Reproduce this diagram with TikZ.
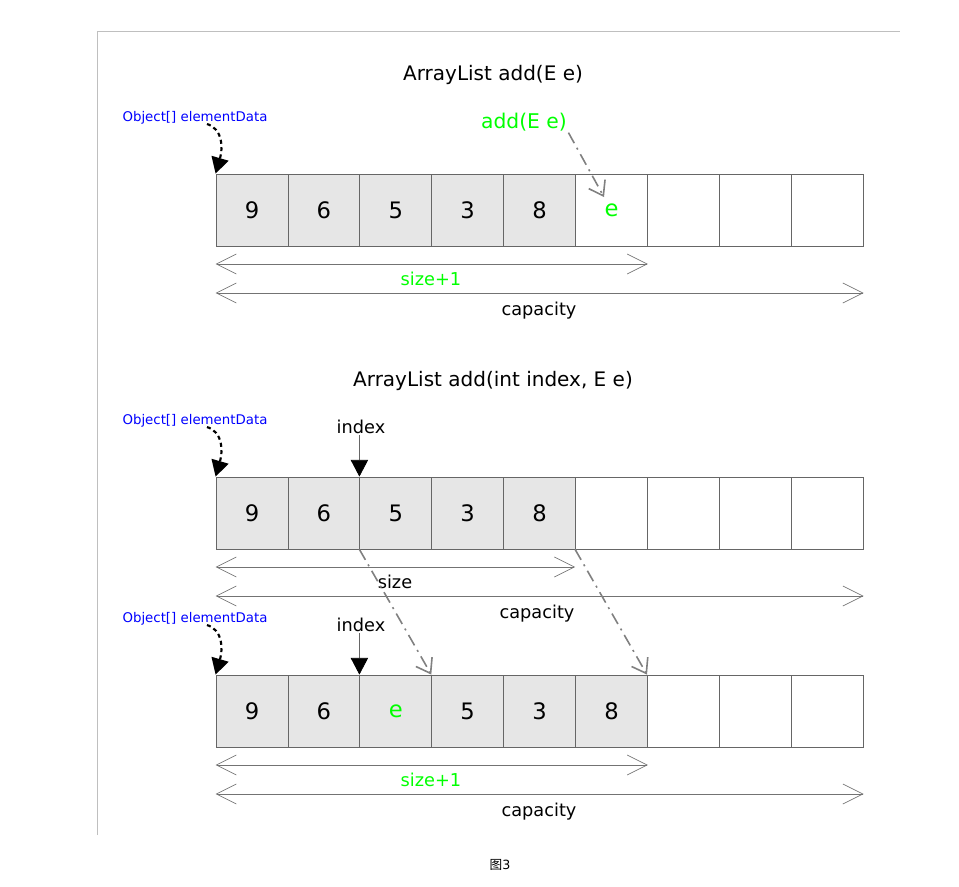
\documentclass[tikz,border=0pt]{standalone}
\usepackage{fontspec}
\setmainfont{DejaVu Sans}
\newfontfamily\cjk{Noto Sans CJK SC}
\usetikzlibrary{arrows.meta, positioning}
\definecolor{cellfill}{HTML}{E6E6E6}
\definecolor{cellline}{HTML}{666666}
\definecolor{hlgreen}{HTML}{00FF00}
\definecolor{ptrblue}{HTML}{0000FF}
\tikzset{
  cell/.style  ={draw=cellline, line width=0.6pt, minimum width=54pt,
                 minimum height=54pt, inner sep=0pt,
                 font=\fontsize{17}{20}\selectfont},
  used/.style  ={cell, fill=cellfill},
  ttl/.style   ={font=\fontsize{15}{18}\selectfont},
  lab/.style   ={font=\fontsize{13.3}{16}\selectfont, inner sep=1pt},
  objlab/.style={font=\fontsize{10}{12}\selectfont, text=ptrblue, inner sep=1pt},
  dim/.style   ={{Straight Barb[length=15pt,width=15pt]}-{Straight Barb[length=15pt,width=15pt]},
                 line width=0.5pt, black!55},
  ptr/.style   ={-{Triangle[length=12pt,width=13pt]}, line width=1.6pt,
                 dash pattern=on 3pt off 2.5pt},
  idx/.style   ={-{Triangle[length=12.5pt,width=13pt,black]}, line width=0.5pt, black!60},
  move/.style  ={-{Straight Barb[length=10pt,width=14pt]}, line width=1.2pt, black!50,
                 dash pattern=on 9pt off 4pt on 1.5pt off 4pt},
  frame/.style ={line width=0.6pt, black!25},
}
\begin{document}
\begin{tikzpicture}[x=0.75pt, y=-0.75pt]
  \useasboundingbox (0,0) rectangle (959,886);
  \draw[frame] (97,835) -- (97,31) -- (900,31);

  % add(E e)
  \node[ttl] (t1) at (493,75) {ArrayList add(E e)};
  \foreach \v [count=\i] in {9,6,5,3,8}
    \node[used] (a\i) at ({252+71.9*(\i-1)},210) {\v};
  \node[cell, text=hlgreen] (a6) at (611.5,210) {e};
  \foreach \i in {7,8,9}
    \node[cell] (a\i) at ({252+71.9*(\i-1)},210) {};
  \node[objlab] (obj1) at (195,118) {Object[] elementData};
  \coordinate (o1) at (207,124);
  \draw[ptr] (o1) .. controls (223,129) and (223,148) .. (a1.north west);
  \node[lab, text=hlgreen, font=\fontsize{15.2}{18}\selectfont] (add1) at (524,122) {add(E e)};
  \coordinate (e1) at (604,197);
  \draw[move] (add1.south east) -- (e1);
  \draw[dim] (a1.south west |- 0,264) -- (a6.south east |- 0,264);
  \node[lab, text=hlgreen] (sz1) at (431,279) {size+1};
  \draw[dim] (a1.south west |- 0,293) -- (a9.south east |- 0,293);
  \node[lab] (cap1) at (539,311) {capacity};

  % add(int index, E e), before
  \node[ttl] (t2) at (493,381) {ArrayList add(int index, E e)};
  \foreach \v [count=\i] in {9,6,5,3,8}
    \node[used] (b\i) at ({252+71.9*(\i-1)},513) {\v};
  \foreach \i in {6,7,8,9}
    \node[cell] (b\i) at ({252+71.9*(\i-1)},513) {};
  \node[objlab] (obj2) at (195,421) {Object[] elementData};
  \coordinate (o2) at (207,427);
  \draw[ptr] (o2) .. controls (223,432) and (223,451) .. (b1.north west);
  \node[lab] (ix2) at (361,427) {index};
  \draw[idx] (ix2.south -| b3.north west) -- (b3.north west);
  \draw[dim] (b1.south west |- 0,567) -- (b6.south west |- 0,567);
  \node[lab] (sz2) at (395,582) {size};
  \draw[dim] (b1.south west |- 0,596) -- (b9.south east |- 0,596);
  \node[lab] (cap2) at (537,614) {capacity};

  % add(int index, E e), after
  \foreach \v/\c [count=\i] in {9/black,6/black,e/hlgreen,5/black,3/black,8/black}
    \node[used, text=\c] (c\i) at ({252+71.9*(\i-1)},711) {\v};
  \foreach \i in {7,8,9}
    \node[cell] (c\i) at ({252+71.9*(\i-1)},711) {};
  \node[objlab] (obj3) at (195,619) {Object[] elementData};
  \coordinate (o3) at (207,625);
  \draw[ptr] (o3) .. controls (223,630) and (223,649) .. (c1.north west);
  \node[lab] (ix3) at (361,625) {index};
  \draw[idx] (ix3.south -| c3.north west) -- (c3.north west);
  \draw[dim] (c1.south west |- 0,765) -- (c6.south east |- 0,765);
  \node[lab, text=hlgreen] (sz3) at (431,780) {size+1};
  \draw[dim] (c1.south west |- 0,794) -- (c9.south east |- 0,794);
  \node[lab] (cap3) at (539,812) {capacity};

  % shifted elements
  \draw[move] (b3.south west) -- (c4.north west);
  \draw[move] (b6.south west) -- (c7.north west);

  \node[font=\fontsize{9.5}{11}\selectfont] (fig) at (500,865) {{\cjk 图}3};
\end{tikzpicture}
\end{document}
